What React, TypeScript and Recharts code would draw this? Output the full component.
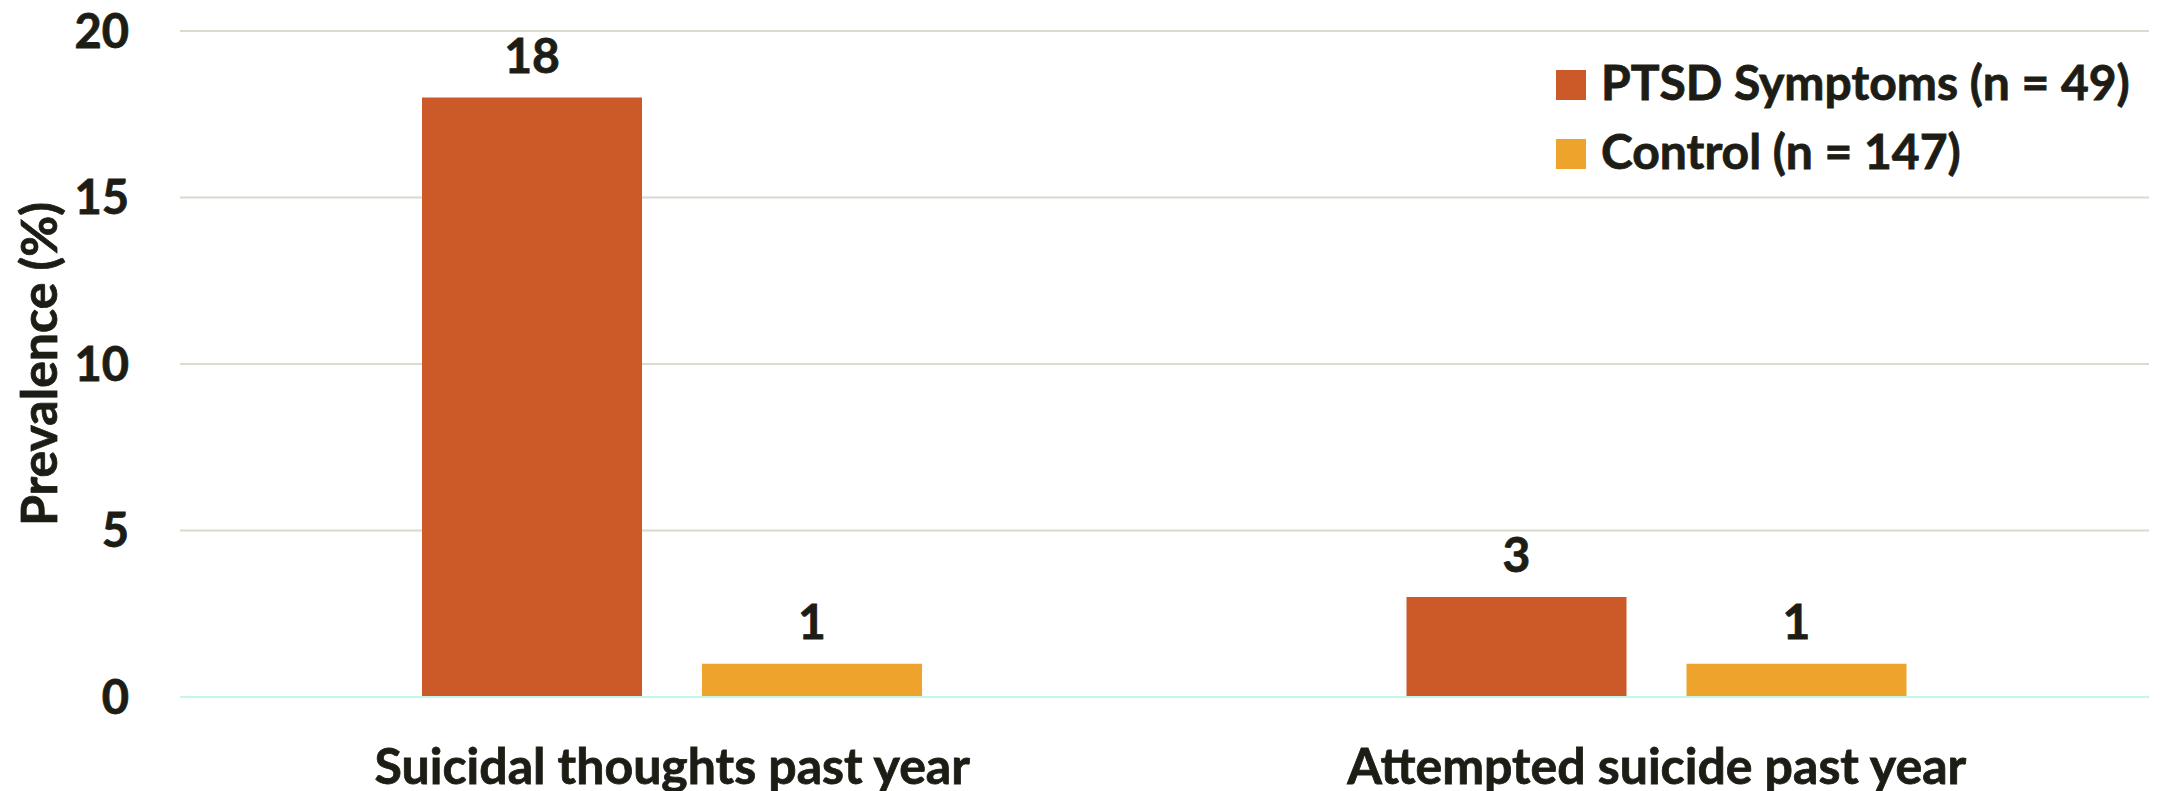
import React from "react";
import {
  Bar,
  BarChart,
  CartesianGrid,
  Label,
  LabelList,
  XAxis,
  YAxis,
} from "recharts";

const categories = ["Suicidal thoughts past year", "Attempted suicide past year"];
const ptsdValues = [18, 3];
const controlValues = [1, 1];
const yTicks = [0, 5, 10, 15, 20];

const seriesInfo = [
  { key: "ptsd", name: "PTSD Symptoms (n = 49)", color: "#CB5A28" },
  { key: "control", name: "Control (n = 147)", color: "#EEA42C" },
];

const FONT = "Lato, 'Open Sans', sans-serif";
const INK = "#1d1d16";
// thin outline so Lato bold reads as heavy as the slide text
const heavy = { stroke: INK, strokeWidth: 0.8 };

const data = categories.map((category, i) => ({
  category,
  ptsd: ptsdValues[i],
  control: controlValues[i],
}));

function LegendBox() {
  return (
    <div
      style={{
        position: "absolute",
        left: 1556,
        top: 50,
        fontFamily: FONT,
        fontWeight: 700,
        fontSize: 48,
        color: INK,
        WebkitTextStroke: "0.8px " + INK,
        whiteSpace: "nowrap",
      }}
    >
      {seriesInfo.map((s) => (
        <div
          key={s.key}
          style={{ display: "flex", alignItems: "center", height: 69 }}
        >
          <span
            style={{
              width: 30,
              height: 30,
              background: s.color,
              marginRight: 15,
              display: "inline-block",
              flex: "none",
            }}
          />
          <span style={{ position: "relative", top: -3 }}>{s.name}</span>
        </div>
      ))}
    </div>
  );
}

export default function App() {
  return (
    <div
      style={{
        position: "absolute",
        left: 0,
        top: 0,
        width: 2167,
        height: 791,
        background: "#fff",
        overflow: "hidden",
      }}
    >
      <BarChart
        width={2167}
        height={791}
        data={data}
        margin={{ top: 31, right: 18, left: 0, bottom: 0 }}
        barSize={220}
        barGap={60}
      >
        <CartesianGrid
          horizontal
          vertical={false}
          stroke="#dadacd"
          strokeWidth={2}
        />
        <XAxis
          dataKey="category"
          height={94}
          tickSize={0}
          tickMargin={51}
          axisLine={{ stroke: "#c6f6ea", strokeWidth: 2 }}
          tick={{
            fill: INK,
            fontSize: 50,
            fontWeight: 700,
            fontFamily: FONT,
            ...heavy,
          }}
        />
        <YAxis
          width={180}
          domain={[0, 20]}
          ticks={yTicks}
          axisLine={false}
          tickSize={0}
          tickMargin={51}
          tick={{
            fill: INK,
            fontSize: 47,
            fontWeight: 700,
            fontFamily: FONT,
            ...heavy,
          }}
        >
          <Label
            content={({ viewBox }: any) => (
              <text
                transform={`translate(38, ${viewBox.y + viewBox.height / 2}) rotate(-90)`}
                textAnchor="middle"
                dominantBaseline="central"
                fill={INK}
                fontSize={50}
                fontWeight={700}
                fontFamily={FONT}
                {...heavy}
              >
                Prevalence (%)
              </text>
            )}
          />
        </YAxis>
        {seriesInfo.map((s) => (
          <Bar
            key={s.key}
            dataKey={s.key}
            name={s.name}
            fill={s.color}
            isAnimationActive={false}
          >
            <LabelList
              dataKey={s.key}
              position="top"
              offset={25}
              fill={INK}
              fontSize={48}
              fontWeight={700}
              fontFamily={FONT}
              {...heavy}
            />
          </Bar>
        ))}
      </BarChart>
      <LegendBox />
    </div>
  );
}
